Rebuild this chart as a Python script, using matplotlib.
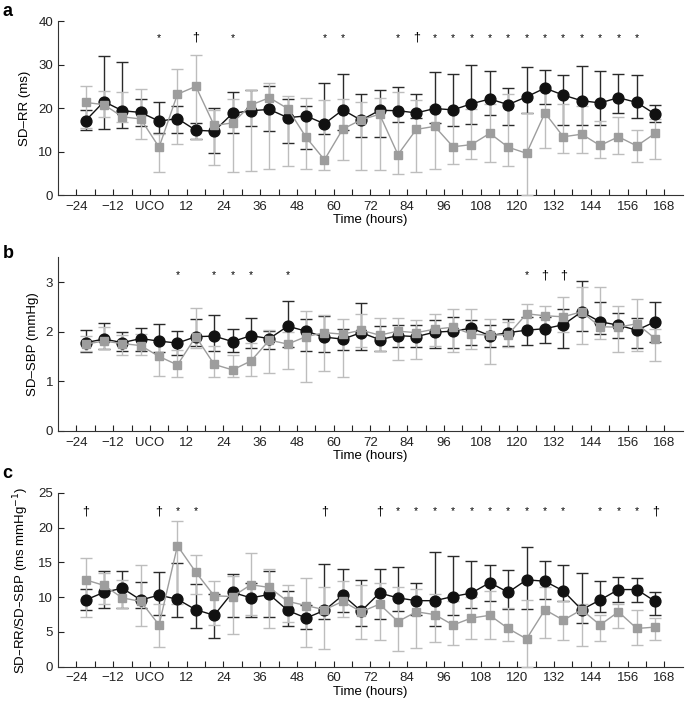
import matplotlib
matplotlib.use('Agg')
import matplotlib.pyplot as plt
import numpy as np

plt.rcParams['font.family'] = ['Liberation Sans', 'DejaVu Sans']
plt.rcParams['font.size'] = 9.5

# sampling times (hours relative to UCO)
hours = list(range(-21, 166, 6))

# panel a: SD-RR (ms)  -- mean, upper, lower
a_blk = [17.1, 21.5, 19.4, 19.0, 17.0, 17.6, 14.9, 14.7, 18.8, 19.4, 19.7, 17.8, 18.2, 16.4, 19.6, 17.2,
         19.5, 19.4, 18.9, 19.9, 19.6, 21.0, 22.1, 20.8, 22.6, 24.6, 23.0, 21.7, 21.2, 22.4, 21.3, 18.6]
a_blk_hi = [19.5, 32.1, 30.6, 22.0, 21.5, 20.5, 16.5, 20.0, 23.7, 24.2, 25.2, 22.0, 20.4, 25.8, 27.8, 23.3,
            24.2, 24.8, 23.2, 28.2, 27.9, 30.0, 28.5, 24.6, 29.5, 28.7, 27.7, 29.6, 28.5, 27.8, 27.7, 20.8]
a_blk_lo = [15.0, 15.2, 15.4, 15.8, 14.3, 14.3, 13.0, 9.6, 14.3, 15.8, 14.8, 11.9, 10.5, 14.0, 15.0, 13.4,
            13.4, 16.7, 17.7, 16.5, 15.8, 16.4, 18.5, 16.2, 18.8, 21.0, 16.2, 16.2, 16.2, 18.8, 17.7, 16.7]
a_gry = [21.3, 20.8, 18.0, 17.5, 11.0, 23.2, 25.0, 16.0, 16.6, 20.7, 22.4, 19.9, 13.3, 8.1, 15.2, 17.3,
         18.6, 9.3, 15.1, 15.8, 11.1, 11.6, 14.2, 11.0, 9.6, 18.9, 13.4, 14.0, 11.4, 13.4, 11.3, 14.2]
a_gry_hi = [25.1, 24.0, 23.8, 24.5, 14.0, 29.0, 32.2, 19.5, 22.0, 24.2, 25.8, 22.7, 22.3, 21.8, 22.0, 21.4,
            22.4, 23.8, 21.9, 20.4, 19.2, 19.8, 21.0, 23.2, 18.8, 25.0, 21.0, 20.5, 17.0, 18.0, 15.0, 17.5]
a_gry_lo = [15.4, 17.9, 16.9, 12.8, 5.4, 11.8, 13.0, 6.9, 5.2, 5.6, 6.1, 6.6, 6.1, 5.7, 8.0, 5.7,
            5.8, 4.9, 5.4, 6.1, 7.1, 8.3, 7.6, 6.7, 0.0, 10.9, 9.6, 9.7, 8.5, 9.4, 7.6, 8.4]

# panel b: SD-SBP (mmHg)
b_blk = [1.78, 1.85, 1.78, 1.86, 1.81, 1.77, 1.90, 1.91, 1.80, 1.92, 1.86, 2.11, 2.01, 1.89, 1.85, 1.98,
         1.84, 1.92, 1.90, 1.99, 2.01, 2.07, 1.92, 1.98, 2.03, 2.06, 2.14, 2.40, 2.20, 2.13, 2.03, 2.20]
b_blk_hi = [2.04, 2.18, 2.00, 2.08, 2.15, 2.01, 2.26, 2.34, 2.06, 2.28, 2.01, 2.61, 2.25, 2.32, 2.05, 2.57,
            2.12, 2.14, 2.13, 2.23, 2.30, 2.23, 2.14, 2.25, 2.30, 2.30, 2.45, 3.03, 2.59, 2.38, 2.28, 2.60]
b_blk_lo = [1.59, 1.66, 1.61, 1.61, 1.60, 1.52, 1.72, 1.61, 1.60, 1.67, 1.66, 1.69, 1.61, 1.60, 1.63, 1.63,
            1.61, 1.70, 1.69, 1.68, 1.67, 1.74, 1.69, 1.72, 1.74, 1.78, 1.67, 2.01, 1.96, 1.88, 1.67, 1.80]
b_gry = [1.75, 1.81, 1.76, 1.72, 1.50, 1.33, 1.90, 1.34, 1.23, 1.41, 1.83, 1.75, 1.90, 1.98, 1.95, 2.03,
         1.93, 2.01, 1.98, 2.05, 2.09, 1.95, 1.93, 1.94, 2.36, 2.32, 2.30, 2.40, 2.10, 2.09, 2.16, 1.86]
b_gry_hi = [1.92, 2.10, 1.93, 1.95, 1.80, 1.63, 2.48, 1.72, 1.52, 1.78, 2.03, 2.00, 2.41, 2.33, 2.25, 2.35,
            2.28, 2.28, 2.23, 2.36, 2.45, 2.45, 2.25, 2.20, 2.55, 2.52, 2.70, 2.90, 2.90, 2.52, 2.65, 2.05]
b_gry_lo = [1.61, 1.65, 1.54, 1.52, 1.11, 1.09, 1.67, 1.08, 1.09, 1.11, 1.16, 1.24, 0.98, 1.21, 1.08, 1.70,
            1.62, 1.43, 1.45, 1.72, 1.59, 1.65, 1.34, 1.69, 2.05, 2.10, 2.00, 1.76, 1.86, 1.59, 1.61, 1.41]

# panel c: SD-RR/SD-SBP (ms mmHg^-1)
c_blk = [9.6, 10.7, 11.3, 9.6, 10.3, 9.7, 8.2, 7.4, 10.7, 9.9, 10.4, 8.1, 7.0, 8.1, 10.3, 8.0,
         10.6, 9.9, 9.5, 9.5, 10.1, 10.6, 12.1, 10.7, 12.5, 12.3, 10.9, 8.2, 9.6, 11.1, 11.1, 9.4]
c_blk_hi = [11.2, 13.8, 13.8, 12.2, 13.6, 14.9, 11.9, 10.5, 13.4, 12.0, 13.8, 10.9, 8.9, 14.8, 14.1, 12.5,
            14.0, 14.3, 12.0, 16.5, 15.9, 15.2, 14.7, 13.9, 17.2, 15.2, 14.6, 13.5, 12.4, 12.9, 12.7, 10.8]
c_blk_lo = [8.2, 8.5, 8.4, 8.4, 7.4, 7.2, 5.6, 4.2, 7.1, 7.1, 7.1, 5.8, 5.4, 6.9, 7.8, 5.9,
            6.9, 8.0, 7.5, 5.9, 7.4, 8.5, 9.5, 8.3, 8.3, 9.8, 9.5, 6.3, 7.9, 9.3, 9.3, 7.5]
c_gry = [12.5, 11.7, 9.9, 9.4, 6.0, 17.4, 13.6, 10.2, 10.1, 11.8, 11.4, 9.4, 8.8, 8.2, 9.4, 7.9,
         9.0, 6.5, 7.9, 7.5, 6.0, 7.0, 7.4, 5.5, 4.0, 8.2, 6.7, 8.2, 6.0, 7.9, 5.5, 5.7]
c_gry_hi = [15.6, 13.5, 12.5, 14.7, 9.0, 21.0, 16.0, 12.3, 13.0, 16.3, 14.1, 11.7, 12.7, 11.5, 12.3, 11.8,
            12.0, 11.4, 11.2, 10.5, 9.5, 10.0, 10.9, 8.5, 9.6, 11.5, 9.5, 9.0, 7.5, 9.0, 8.1, 7.0]
c_gry_lo = [7.1, 9.0, 8.5, 5.8, 2.9, 9.0, 10.5, 6.0, 4.7, 7.4, 5.5, 6.5, 2.9, 2.6, 7.1, 4.0,
            3.8, 2.3, 2.7, 3.6, 3.1, 4.0, 4.0, 3.7, 0.0, 4.2, 3.8, 3.0, 3.7, 5.6, 3.1, 3.8]

# significance symbols (hour, symbol)
a_sig = [(3, '*'), (15, '†'), (27, '*'), (57, '*'), (63, '*'), (81, '*'), (87, '†')] + \
        [(h, '*') for h in range(93, 160, 6)]
b_sig = [(9, '*'), (21, '*'), (27, '*'), (33, '*'), (45, '*'), (123, '*'), (129, '†'), (135, '†')]
c_sig = [(-21, '†'), (3, '†'), (9, '*'), (15, '*'), (57, '†'), (75, '†')] + \
        [(h, '*') for h in range(81, 136, 6)] + [(147, '*'), (153, '*'), (159, '*'), (165, '†')]

xtick_pos = list(range(-24, 169, 12))
xtick_lab = ['\u221224', '\u221212', 'UCO'] + [str(h) for h in range(12, 169, 12)]

panels = [
    ('a', 'SD\u2013RR (ms)', 40, [0, 10, 20, 30, 40], 36.2,
     a_blk, a_blk_hi, a_blk_lo, a_gry, a_gry_hi, a_gry_lo, a_sig),
    ('b', 'SD\u2013SBP (mmHg)', 3.5, [0, 1, 2, 3], 3.13,
     b_blk, b_blk_hi, b_blk_lo, b_gry, b_gry_hi, b_gry_lo, b_sig),
    ('c', 'SD\u2013RR/SD\u2013SBP (ms mmHg$^{-1}$)', 25, [0, 5, 10, 15, 20, 25], 22.4,
     c_blk, c_blk_hi, c_blk_lo, c_gry, c_gry_hi, c_gry_lo, c_sig),
]

bottoms = [0.7234, 0.3887, 0.0543]
letter_y = [0.983, 0.641, 0.329]
BLK = '#111111'
BLK_ERR = '#2a2a2a'
GRY = '#9d9d9d'
GRY_ERR = '#bdbdbd'

fig = plt.figure(figsize=(6.85, 7.05), dpi=100)

for (letter, ylabel, ymax, yticks, sig_y, bm, bh, bl, gm, gh, gl, sig), bot, ly in zip(panels, bottoms, letter_y):
    ax = fig.add_axes([0.0847, bot, 0.912, 0.2465])
    bm, bh, bl = np.array(bm), np.array(bh), np.array(bl)
    gm, gh, gl = np.array(gm), np.array(gh), np.array(gl)

    ax.errorbar(hours, bm, yerr=[bm - bl, bh - bm], fmt='none', ecolor=BLK_ERR,
                elinewidth=1.0, capsize=4.5, capthick=1.0, zorder=2, clip_on=False)
    ax.errorbar(hours, gm, yerr=[gm - gl, gh - gm], fmt='none', ecolor=GRY_ERR,
                elinewidth=1.0, capsize=4.5, capthick=1.0, zorder=3, clip_on=False)
    ax.plot(hours, bm, '-o', color=BLK, lw=1.0, ms=7.8, mec=BLK, zorder=4, clip_on=False)
    ax.plot(hours, gm, '-s', color=GRY, lw=1.0, ms=6.2, mec=GRY, zorder=5, clip_on=False)

    for h, s in sig:
        ax.text(h, sig_y, s, ha='center', va='center', fontsize=9 if s == '†' else 7.5)

    ax.set_xlim(-30, 174)
    ax.set_ylim(0, ymax)
    ax.set_yticks(yticks)
    ax.set_xticks(xtick_pos)
    ax.set_xticklabels(xtick_lab)
    ax.set_xticks(list(range(-18, 169, 12)), minor=True)
    ax.tick_params(axis='both', which='both', direction='in', length=4.5, width=0.8,
                   labelsize=9.5, colors='#222222')
    ax.tick_params(axis='x', pad=4)
    for side in ['top', 'right']:
        ax.spines[side].set_visible(False)
    for side in ['left', 'bottom']:
        ax.spines[side].set_linewidth(0.8)
        ax.spines[side].set_color('#333333')
    ax.set_ylabel(ylabel, fontsize=9.5, labelpad=5)
    ax.set_xlabel('Time (hours)', fontsize=9.5, labelpad=1)
    fig.text(0.004, ly, letter, fontsize=13, fontweight='bold', va='center')

plt.savefig('out.png', dpi=100)
